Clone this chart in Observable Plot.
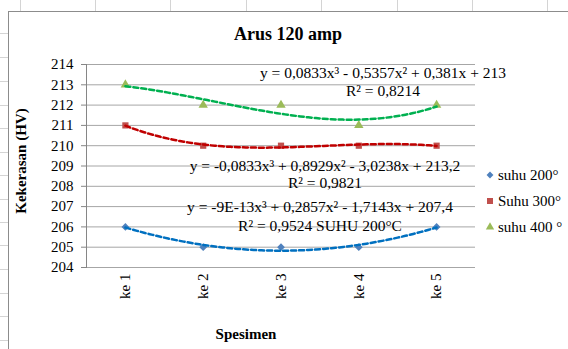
<!DOCTYPE html>
<html><head><meta charset="utf-8">
<script src="https://cdn.jsdelivr.net/npm/d3@7"></script>
<script src="https://cdn.jsdelivr.net/npm/@observablehq/plot@0.6"></script>
<style>
html,body{margin:0;padding:0;background:#fff;}
#wrap{position:relative;width:568px;height:349px;overflow:hidden;font-family:"Liberation Serif","Times New Roman",serif;}
#sheet{position:absolute;left:0;top:0;}
#chartArea{position:absolute;left:8px;top:11px;width:600px;height:400px;border:1px solid #8c8c8c;background:#fff;}
#plot{position:absolute;left:0;top:0;}
</style></head><body>
<div id="wrap"><svg id="sheet" width="568" height="349"></svg><div id="chartArea"></div><div id="plot"></div></div>
<script>
// ---- data ----
const specimens = ["ke 1", "ke 2", "ke 3", "ke 4", "ke 5"];
const specimenIndex = [1, 2, 3, 4, 5];
const suhu200 = [206, 205, 205, 205, 206];
const suhu300 = [211, 210, 210, 210, 210];
const suhu400 = [213, 212, 212, 211, 212];
const seriesNames = ["suhu 200°", "Suhu 300°", "suhu 400 °"];
const seriesValues = [suhu200, suhu300, suhu400];
const markerColors = ["#4F81BD", "#C0504D", "#9BBB59"];
const trendColors = ["#0070C0", "#C00000", "#00B050"];
const markerSymbols = ["diamond2", "square", "triangle"];
const yTicks = [204, 205, 206, 207, 208, 209, 210, 211, 212, 213, 214];
const titleText = "Arus 120 amp";
const yLabel = "Kekerasan (HV)";
const xLabel = "Spesimen";
const eq400 = ["y = 0,0833x³ - 0,5357x² + 0,381x + 213", "R² = 0,8214"];
const eq300 = ["y = -0,0833x³ + 0,8929x² - 3,0238x + 213,2", "R² = 0,9821"];
const eq200 = ["y = -9E-13x³ + 0,2857x² - 1,7143x + 207,4", "R² = 0,9524 SUHU 200°C"];

// ---- polynomial least-squares trendline (order 3), like Excel ----
function polyfit(xs, ys, deg) {
  const n = deg + 1;
  const A = Array.from({length: n}, () => new Array(n + 1).fill(0));
  for (let i = 0; i < xs.length; i++) {
    for (let r = 0; r < n; r++) {
      for (let c = 0; c < n; c++) A[r][c] += Math.pow(xs[i], r + c);
      A[r][n] += ys[i] * Math.pow(xs[i], r);
    }
  }
  for (let p = 0; p < n; p++) {
    let m = p;
    for (let r = p + 1; r < n; r++) if (Math.abs(A[r][p]) > Math.abs(A[m][p])) m = r;
    [A[p], A[m]] = [A[m], A[p]];
    for (let r = 0; r < n; r++) {
      if (r === p) continue;
      const f = A[r][p] / A[p][p];
      for (let c = p; c <= n; c++) A[r][c] -= f * A[p][c];
    }
  }
  return A.map((row, i) => row[n] / row[i]);
}
const evalPoly = (co, x) => co.reduce((s, c, i) => s + c * Math.pow(x, i), 0);
const sampleX = d3.range(1, 5.0001, 0.05);

const marks = [
  Plot.ruleY(yTicks, {stroke: "#a6a6a6", strokeWidth: 1}),
  Plot.frame({anchor: "left", stroke: "#868686"}),
  Plot.axisY({ticks: yTicks, tickSize: 5, tickPadding: 8, stroke: "#868686", fill: "black", fontSize: 15, label: null}),
  Plot.axisX({ticks: specimenIndex, tickFormat: d => specimens[d - 1], tickRotate: -90, tickSize: 0, tickPadding: 6, fill: "black", fontSize: 15, label: null})
];
seriesValues.forEach((vals, k) => {
  const pts = specimenIndex.map((x, i) => ({x, y: vals[i]}));
  const co = polyfit(specimenIndex, vals, 3);
  const fit = sampleX.map(x => ({x, y: evalPoly(co, x)}));
  marks.push(Plot.dot(pts, {x: "x", y: "y", symbol: markerSymbols[k], fill: markerColors[k], r: 3.5}));
  marks.push(Plot.line(fit, {x: "x", y: "y", stroke: trendColors[k], strokeWidth: 2.5, strokeDasharray: "5,3"}));
});

const plot = Plot.plot({
  width: 568, height: 349,
  marginLeft: 86, marginRight: 93, marginTop: 64, marginBottom: 82,
  style: {background: "transparent", fontFamily: "'Liberation Serif', 'Times New Roman', serif", fontSize: "15px", color: "black"},
  x: {type: "linear", domain: [0.5, 5.5]},
  y: {domain: [204, 214]},
  marks
});
document.getElementById("plot").appendChild(plot);

// ---- annotations ----
const svg = d3.select(plot);
const font = "'Liberation Serif', 'Times New Roman', serif";
svg.append("text").attr("x", 288).attr("y", 40).attr("text-anchor", "middle")
  .attr("font-family", font).attr("font-size", 18).attr("font-weight", "bold").text(titleText);
svg.append("text").attr("transform", "translate(21,161) rotate(-90)").attr("text-anchor", "middle").attr("dy", "0.35em")
  .attr("font-family", font).attr("font-size", 15).attr("font-weight", "bold").text(yLabel);
svg.append("text").attr("x", 246).attr("y", 339).attr("text-anchor", "middle")
  .attr("font-family", font).attr("font-size", 15).attr("font-weight", "bold").text(xLabel);

const eqPlacement = [[eq400, 383, 78, 96], [eq300, 325, 171, 188], [eq200, 320, 212, 231]];
eqPlacement.forEach(([lines, cx, y1, y2]) => {
  [y1, y2].forEach((yy, i) => {
    svg.append("text").attr("x", cx).attr("y", yy).attr("text-anchor", "middle")
      .attr("font-family", font).attr("font-size", 15.5).attr("fill", "black").text(lines[i]);
  });
});

const symMap = {diamond2: d3.symbolDiamond2, square: d3.symbolSquare, triangle: d3.symbolTriangle};
seriesNames.forEach((name, k) => {
  const y = 175 + 26 * k;
  svg.append("path").attr("transform", `translate(490,${y})`)
    .attr("d", d3.symbol(symMap[markerSymbols[k]], k === 1 ? 36 : 30)()).attr("fill", markerColors[k]);
  svg.append("text").attr("x", 498).attr("y", y).attr("dy", "0.35em").attr("text-anchor", "start")
    .attr("font-family", font).attr("font-size", 15).attr("fill", "black").text(name);
});

// ---- spreadsheet cell lines behind the chart ----
const sheet = d3.select("#sheet");
[20, 95, 170, 246, 321, 397, 472, 547].forEach(x => sheet.append("line")
  .attr("x1", x + 0.5).attr("x2", x + 0.5).attr("y1", 0).attr("y2", 11).attr("stroke", "#d4d4d4"));
[33, 57, 81, 105, 128, 152, 175, 199, 222, 245, 269, 293, 316, 340].forEach(y => sheet.append("line")
  .attr("x1", 0).attr("x2", 8).attr("y1", y + 0.5).attr("y2", y + 0.5).attr("stroke", "#d4d4d4"));
</script>
</body></html>
